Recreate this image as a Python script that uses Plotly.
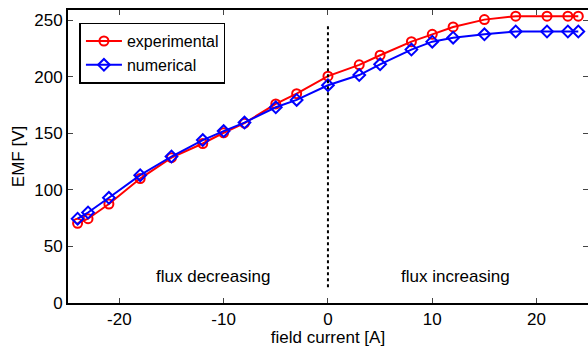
import plotly.graph_objects as go

# Field current settings [A]
current = [-24, -23, -21, -18, -15, -12, -10, -8, -5, -3, 0, 3, 5, 8, 10, 12, 15, 18, 21, 23, 24]

# Measured and simulated EMF [V]
emf_experimental = [70.5, 74.5, 87.5, 110, 128.5, 141, 150.5, 159, 176, 185, 200.5, 210.5, 219, 231, 237.5, 244, 250.5, 253.5, 253.5, 253.5, 253.5]
emf_numerical = [74.5, 80, 93, 113, 129.5, 144, 152, 159.5, 173, 179.5, 192.5, 201.5, 211, 224, 231, 234.5, 237.5, 240, 240, 240, 240]

region_labels = ["flux decreasing", "flux increasing"]
region_x = [-11, 12.2]
region_y = [23, 23]

x_ticks = [-20, -10, 0, 10, 20]
x_tick_text = ["-20", "-10", "0", "10", "20"]
y_ticks = [0, 50, 100, 150, 200, 250]
x_range = [-24.92, 24.93]
y_range = [0, 259]

font = "Liberation Sans, Arial, sans-serif"

fig = go.Figure()
fig.add_trace(go.Scatter(
    x=current, y=emf_experimental, mode="lines+markers", name="experimental",
    line=dict(color="#ff0000", width=2),
    marker=dict(symbol="circle-open", size=9, color="#ff0000", line=dict(width=2)),
))
fig.add_trace(go.Scatter(
    x=current, y=emf_numerical, mode="lines+markers", name="numerical",
    line=dict(color="#0000ff", width=2),
    marker=dict(symbol="diamond-open", size=9, color="#0000ff", line=dict(width=2)),
))
# helper trace carrying the right-hand tick axis
fig.add_trace(go.Scatter(x=[0], y=[0], yaxis="y2", mode="markers",
                         marker=dict(opacity=0), showlegend=False, hoverinfo="skip"))

# dotted separator at zero field current
fig.add_shape(type="line", x0=0, x1=0, y0=14, y1=246, xref="x", yref="y",
              line=dict(color="black", width=2, dash="dot"))

for txt, tx, ty in zip(region_labels, region_x, region_y):
    fig.add_annotation(x=tx, y=ty, text=txt, showarrow=False,
                       font=dict(family=font, size=17, color="black"))

fig.update_layout(
    width=588, height=347,
    margin=dict(l=68, r=0, t=10, b=44),
    paper_bgcolor="white", plot_bgcolor="white",
    font=dict(family=font, size=17, color="black"),
    showlegend=True,
    legend=dict(x=0.022, y=0.957, xanchor="left", yanchor="top",
                bgcolor="white", bordercolor="black", borderwidth=1.5,
                font=dict(family=font, size=16), tracegroupgap=0,
                itemwidth=36),
    xaxis=dict(range=x_range, tickvals=x_ticks, ticktext=x_tick_text,
               ticks="inside", ticklen=5,
               showline=True, linecolor="black", linewidth=2, mirror="ticks",
               showgrid=False, zeroline=False,
               title=dict(text="field current [A]", standoff=0, font=dict(size=17)),
               tickfont=dict(size=17)),
    yaxis=dict(range=y_range, tickvals=y_ticks, ticks="inside", ticklen=5,
               showline=True, linecolor="black", linewidth=2, mirror=False,
               showgrid=False, zeroline=False,
               title=dict(text="EMF [V]", standoff=5, font=dict(size=17)),
               tickfont=dict(size=17)),
    yaxis2=dict(range=y_range, tickvals=y_ticks, ticks="inside", ticklen=5,
                overlaying="y", side="right", showticklabels=False,
                showline=False, showgrid=False, zeroline=False),
)

fig.write_html("out.html")
